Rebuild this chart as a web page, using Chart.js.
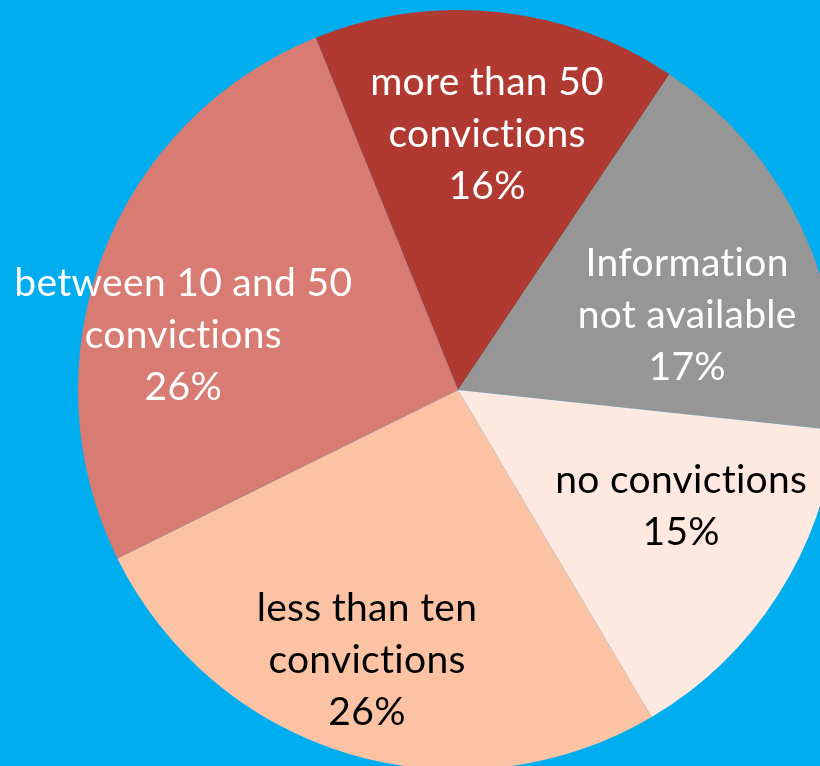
<!DOCTYPE html>
<html>
<head>
<meta charset="utf-8">
<script src="https://cdn.jsdelivr.net/npm/chart.js@4/dist/chart.umd.min.js"></script>
<style>
  html, body { margin: 0; padding: 0; background: #00AEEF; overflow: hidden; width: 820px; height: 766px; }
  #wrap { position: absolute; left: 0; top: 0; width: 916px; height: 780px; }
</style>
</head>
<body>
<div id="wrap"><canvas id="c" width="916" height="780"></canvas></div>
<script>
const categories = [
  ["more than 50", "convictions"],
  ["Information", "not available"],
  ["no convictions"],
  ["less than ten", "convictions"],
  ["between 10 and 50", "convictions"]
];
// shares (labels show rounded values)
const shares = [15.5, 17.3, 14.8, 26.2, 26.2];

const sliceColors = ["#B03A32", "#969696", "#FDE9DF", "#FCC2A4", "#D87B72"];
const labelColors = ["#FFFFFF", "#FFFFFF", "#000000", "#000000", "#FFFFFF"];
// label placement: fraction of radius and angular nudge (degrees)
const labelRadius = [0.676, 0.634, 0.663, 0.75, 0.737];
const labelAngleNudge = [0.6, 7.1, -5.1, 2.1, -9.6];

const labelPlugin = {
  id: 'sliceLabels',
  afterDatasetsDraw(chart) {
    const ctx = chart.ctx;
    const meta = chart.getDatasetMeta(0);
    const total = shares.reduce((a, b) => a + b, 0);
    meta.data.forEach((arc, i) => {
      const mid = (arc.startAngle + arc.endAngle) / 2 + labelAngleNudge[i] * Math.PI / 180;
      const r = arc.outerRadius * labelRadius[i];
      const x = arc.x + Math.cos(mid) * r;
      const y = arc.y + Math.sin(mid) * r;
      const lines = categories[i].concat([Math.round(shares[i] / total * 100) + "%"]);
      const lh = 52;
      ctx.save();
      ctx.font = "39px Lato";
      ctx.letterSpacing = "0.3px";
      ctx.fillStyle = labelColors[i];
      ctx.textAlign = "center";
      ctx.textBaseline = "middle";
      const y0 = y - (lines.length - 1) * lh / 2;
      // zero-width non-joiner keeps "t" and "i" as separate glyphs (no ligature)
      lines.forEach((t, k) => ctx.fillText(t.replace(/ti/g, "t\u200Ci"), x, y0 + k * lh));
      ctx.restore();
    });
  }
};

new Chart(document.getElementById('c'), {
  type: 'pie',
  data: {
    labels: categories.map(c => c.join(' ')),
    datasets: [{
      data: shares,
      backgroundColor: sliceColors,
      borderWidth: 0,
      radius: 380
    }]
  },
  options: {
    responsive: false,
    animation: false,
    rotation: -22,
    layout: { padding: 0 },
    plugins: { legend: { display: false }, tooltip: { enabled: false } }
  },
  plugins: [labelPlugin]
});
</script>
</body>
</html>
